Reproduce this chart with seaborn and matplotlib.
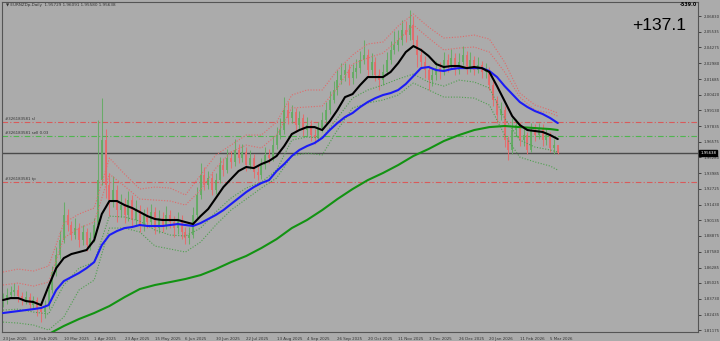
import numpy as np
import pandas as pd
import matplotlib
matplotlib.use("Agg")
import matplotlib.pyplot as plt
import matplotlib.transforms as mtrans
import seaborn as sns

# ---------------- data (EURNZDp, 2-day candles) ----------------
closes = [1.8363, 1.8404, 1.8428, 1.8445, 1.8396, 1.8363, 1.8387, 1.8322, 1.8363, 1.8298,
          1.8265, 1.8314, 1.8445, 1.8592, 1.8731, 1.8853, 1.9058, 1.8976, 1.8894, 1.8951,
          1.8853, 1.8919, 1.8812, 1.8870, 1.8976, 1.9343, 1.9670, 1.9303, 1.9180, 1.9262,
          1.9098, 1.9139, 1.9058, 1.9180, 1.9017, 1.9098, 1.8976, 1.9058, 1.9000, 1.9082,
          1.8951, 1.9033, 1.8976, 1.9058, 1.9000, 1.8951, 1.9017, 1.8919, 1.8870, 1.8894,
          1.9058, 1.9221, 1.9384, 1.9303, 1.9360, 1.9262, 1.9343, 1.9466, 1.9425, 1.9523,
          1.9491, 1.9589, 1.9523, 1.9572, 1.9466, 1.9523, 1.9409, 1.9384, 1.9466, 1.9548,
          1.9523, 1.9629, 1.9711, 1.9752, 1.9915, 1.9850, 1.9899, 1.9793, 1.9850, 1.9752,
          1.9793, 1.9711, 1.9687, 1.9768, 1.9834, 1.9915, 1.9997, 2.0079, 2.0160, 2.0201,
          2.0242, 2.0177, 2.0226, 2.0258, 2.0324, 2.0365, 2.0242, 2.0307, 2.0201, 2.0160,
          2.0226, 2.0324, 2.0406, 2.0446, 2.0487, 2.0569, 2.0528, 2.0610, 2.0487, 2.0365,
          2.0307, 2.0242, 2.0160, 2.0201, 2.0258, 2.0226, 2.0324, 2.0283, 2.0340, 2.0242,
          2.0307, 2.0365, 2.0258, 2.0324, 2.0242, 2.0283, 2.0226, 2.0242, 2.0120, 1.9997,
          1.9874, 1.9915, 1.9670, 1.9589, 1.9752, 1.9793, 1.9670, 1.9711, 1.9589, 1.9752,
          1.9711, 1.9768, 1.9670, 1.9711, 1.9605, 1.9629, 1.95638]
highs = [1.8420, 1.8460, 1.8475, 1.8500, 1.8490, 1.8430, 1.8440, 1.8420, 1.8400, 1.8390,
         1.8330, 1.8360, 1.8480, 1.8640, 1.8800, 1.8930, 1.9165, 1.9110, 1.9010, 1.9030,
         1.8990, 1.8980, 1.8950, 1.8920, 1.9030, 1.9834, 2.0013, 1.9760, 1.9400, 1.9380,
         1.9300, 1.9230, 1.9200, 1.9250, 1.9220, 1.9180, 1.9140, 1.9110, 1.9120, 1.9150,
         1.9120, 1.9100, 1.9080, 1.9130, 1.9100, 1.9050, 1.9080, 1.9060, 1.8960, 1.8960,
         1.9120, 1.9290, 1.9480, 1.9450, 1.9420, 1.9400, 1.9400, 1.9530, 1.9520, 1.9600,
         1.9580, 1.9680, 1.9640, 1.9640, 1.9610, 1.9590, 1.9560, 1.9460, 1.9520, 1.9610,
         1.9600, 1.9700, 1.9780, 1.9850, 2.0020, 1.9980, 1.9960, 1.9930, 1.9910, 1.9880,
         1.9860, 1.9830, 1.9760, 1.9820, 1.9900, 1.9980, 2.0070, 2.0150, 2.0240, 2.0300,
         2.0300, 2.0290, 2.0290, 2.0330, 2.0400, 2.0490, 2.0410, 2.0380, 2.0350, 2.0250,
         2.0290, 2.0390, 2.0480, 2.0560, 2.0570, 2.0650, 2.0640, 2.0730, 2.0680, 2.0530,
         2.0420, 2.0360, 2.0280, 2.0260, 2.0320, 2.0310, 2.0390, 2.0370, 2.0410, 2.0380,
         2.0380, 2.0440, 2.0400, 2.0390, 2.0360, 2.0350, 2.0320, 2.0300, 2.0270, 2.0150,
         2.0030, 1.9980, 1.9950, 1.9700, 1.9850, 1.9840, 1.9820, 1.9780, 1.9740, 1.9810,
         1.9800, 1.9810, 1.9800, 1.9770, 1.9740, 1.9680, 1.96091]
lows = [1.8310, 1.8330, 1.8380, 1.8395, 1.8350, 1.8320, 1.8330, 1.8280, 1.8290, 1.8230,
        1.8185, 1.8220, 1.8290, 1.8420, 1.8560, 1.8700, 1.8830, 1.8930, 1.8850, 1.8860,
        1.8800, 1.8810, 1.8760, 1.8770, 1.8840, 1.8950, 1.9300, 1.9200, 1.9050, 1.9120,
        1.9000, 1.9040, 1.8990, 1.9010, 1.8960, 1.8970, 1.8920, 1.8930, 1.8950, 1.8960,
        1.8900, 1.8910, 1.8920, 1.8940, 1.8950, 1.8880, 1.8900, 1.8860, 1.8820, 1.8820,
        1.8870, 1.9030, 1.9190, 1.9260, 1.9270, 1.9220, 1.9230, 1.9320, 1.9380, 1.9400,
        1.9440, 1.9460, 1.9480, 1.9490, 1.9420, 1.9430, 1.9360, 1.9340, 1.9350, 1.9430,
        1.9480, 1.9500, 1.9600, 1.9680, 1.9720, 1.9800, 1.9810, 1.9740, 1.9750, 1.9700,
        1.9700, 1.9660, 1.9640, 1.9660, 1.9740, 1.9800, 1.9880, 1.9970, 2.0040, 2.0130,
        2.0150, 2.0120, 2.0130, 2.0180, 2.0220, 2.0290, 2.0190, 2.0200, 2.0150, 2.0080,
        2.0120, 2.0200, 2.0290, 2.0370, 2.0400, 2.0450, 2.0470, 2.0490, 2.0440, 2.0270,
        2.0250, 2.0180, 2.0080, 2.0110, 2.0160, 2.0170, 2.0200, 2.0230, 2.0250, 2.0200,
        2.0210, 2.0280, 2.0210, 2.0230, 2.0200, 2.0220, 2.0180, 2.0180, 2.0080, 1.9950,
        1.9810, 1.9830, 1.9610, 1.9510, 1.9560, 1.9700, 1.9620, 1.9620, 1.9560, 1.9570,
        1.9660, 1.9680, 1.9620, 1.9630, 1.9570, 1.9560, 1.95580]

# fast (black) and middle (blue) moving averages, sampled every 4 trading days
ma_bars = list(range(0, 293, 4))
ma_fast = [1.8363, 1.8379, 1.8379, 1.8355, 1.8347, 1.8322, 1.8477, 1.8624, 1.8706, 1.8739,
           1.8755, 1.8772, 1.8853, 1.9066, 1.9172, 1.9172, 1.9139, 1.9115, 1.9082, 1.9049,
           1.9025, 1.9017, 1.9017, 1.9017, 1.9000, 1.8984, 1.9049, 1.9107, 1.9196, 1.9286,
           1.9352, 1.9417, 1.9450, 1.9441, 1.9474, 1.9499, 1.9540, 1.9621, 1.9719, 1.9752,
           1.9776, 1.9776, 1.9752, 1.9825, 1.9915, 2.0021, 2.0046, 2.0120, 2.0185, 2.0185,
           2.0185, 2.0226, 2.0299, 2.0389, 2.0438, 2.0406, 2.0357, 2.0291, 2.0267, 2.0275,
           2.0275, 2.0258, 2.0267, 2.0258, 2.0226, 2.0111, 1.9989, 1.9866, 1.9793, 1.9752,
           1.9744, 1.9736, 1.9711, 1.9678]
ma_mid = [1.8257, 1.8265, 1.8273, 1.8281, 1.8289, 1.8298, 1.8322, 1.8445, 1.8518, 1.8551,
          1.8584, 1.8624, 1.8673, 1.8812, 1.8894, 1.8927, 1.8951, 1.8960, 1.8976, 1.8968,
          1.8968, 1.8968, 1.8976, 1.8984, 1.8976, 1.8968, 1.8992, 1.9025, 1.9058, 1.9098,
          1.9147, 1.9196, 1.9245, 1.9286, 1.9319, 1.9343, 1.9417, 1.9474, 1.9540, 1.9589,
          1.9621, 1.9646, 1.9687, 1.9752, 1.9809, 1.9858, 1.9891, 1.9940, 1.9981, 2.0013,
          2.0038, 2.0054, 2.0079, 2.0128, 2.0193, 2.0258, 2.0267, 2.0242, 2.0234, 2.0250,
          2.0258, 2.0258, 2.0258, 2.0258, 2.0234, 2.0185, 2.0111, 2.0046, 1.9981, 1.9940,
          1.9907, 1.9883, 1.9850, 1.9809]

# slow average and the dotted bands, sampled every 8 trading days plus the last bar
line_bars = list(range(0, 289, 8)) + [292]
ma_slow = [np.nan, np.nan, np.nan, 1.8085, 1.8151, 1.8208, 1.8257, 1.8314, 1.8387, 1.8453,
           1.8486, 1.8510, 1.8535, 1.8567, 1.8616, 1.8673, 1.8723, 1.8788, 1.8861, 1.8951,
           1.9017, 1.9098, 1.9188, 1.9270, 1.9343, 1.9401, 1.9466, 1.9540, 1.9597, 1.9662,
           1.9711, 1.9752, 1.9776, 1.9785, 1.9776, 1.9768, 1.9760, 1.9752]
band_up_outer = [1.8592, 1.8616, 1.8600, 1.8641, 1.8992, 1.9066, 1.9115, 1.9523, 1.9392, 1.9270,
                 1.9286, 1.9278, 1.9221, 1.9384, 1.9548, 1.9629, 1.9711, 1.9711, 1.9817, 2.0038,
                 2.0079, 2.0079, 2.0242, 2.0365, 2.0455, 2.0471, 2.0602, 2.0700, 2.0593, 2.0504,
                 2.0512, 2.0528, 2.0495, 2.0307, 2.0054, 1.9956, 1.9915, 1.9891]
band_up_inner = [1.8486, 1.8502, 1.8477, 1.8510, 1.8870, 1.8951, 1.9000, 1.9392, 1.9294, 1.9188,
                 1.9180, 1.9172, 1.9139, 1.9262, 1.9441, 1.9572, 1.9629, 1.9605, 1.9711, 1.9932,
                 1.9940, 1.9948, 2.0095, 2.0291, 2.0340, 2.0381, 2.0487, 2.0610, 2.0504, 2.0406,
                 2.0422, 2.0430, 2.0389, 2.0226, 2.0021, 1.9915, 1.9891, 1.9866]
band_dn_inner = [1.8281, 1.8289, 1.8265, 1.8249, 1.8486, 1.8624, 1.8673, 1.9049, 1.9041, 1.9008,
                 1.8935, 1.8894, 1.8886, 1.8951, 1.9082, 1.9196, 1.9278, 1.9327, 1.9425, 1.9670,
                 1.9695, 1.9687, 1.9850, 2.0013, 2.0079, 2.0120, 2.0169, 2.0209, 2.0144, 2.0111,
                 2.0160, 2.0144, 2.0095, 1.9850, 1.9670, 1.9613, 1.9589, 1.9572]
band_dn_outer = [1.8183, 1.8175, 1.8159, 1.8118, 1.8224, 1.8445, 1.8526, 1.8951, 1.8951, 1.8919,
                 1.8804, 1.8780, 1.8755, 1.8837, 1.8976, 1.9098, 1.9188, 1.9278, 1.9360, 1.9540,
                 1.9564, 1.9548, 1.9752, 1.9932, 1.9973, 1.9997, 2.0038, 2.0136, 2.0079, 2.0021,
                 2.0021, 2.0013, 1.9956, 1.9711, 1.9531, 1.9491, 1.9458, 1.9425]

date_labels = ["23 Jan 2025", "14 Feb 2025", "10 Mar 2025", "1 Apr 2025", "23 Apr 2025",
               "15 May 2025", "6 Jun 2025", "30 Jun 2025", "22 Jul 2025", "13 Aug 2025",
               "4 Sep 2025", "26 Sep 2025", "20 Oct 2025", "11 Nov 2025", "3 Dec 2025",
               "26 Dec 2025", "20 Jan 2026", "11 Feb 2026", "5 Mar 2026"]
price_ticks = [2.06830, 2.05535, 2.04275, 2.02980, 2.01685, 2.00420, 1.99130, 1.97835,
               1.96575, 1.95280, 1.93985, 1.92725, 1.91430, 1.90135, 1.88875, 1.87580,
               1.86285, 1.85025, 1.83730, 1.82435, 1.81175]
sl_price, sell_price, tp_price, last_price = 1.9817, 1.9703, 1.9327, 1.95638
order_id = "#326183581"
title = "\u25bc EURNZDp,Daily  1.95729 1.96091 1.95580 1.95638"
profit_text = "+137.1"
corner_text = "-539.0"

# ---------------- drawing ----------------
BG = "#ababab"
UP = "#62ab62"
DN = "#e66a6a"

sns.set_theme(style="white")
plt.rcParams['font.family'] = ['DejaVu Sans']

W, H = 720, 341
fig = plt.figure(figsize=(W / 100, H / 100), dpi=100, facecolor=BG)
ax = fig.add_axes([2 / W, 9 / H, 696 / W, 330 / H])
ax.set_facecolor(BG)

bar_step = 2
bars = np.arange(len(closes)) * bar_step
opens = [closes[0]] + closes[:-1]
df = pd.DataFrame({"bar": bars, "open": opens, "close": closes, "high": highs, "low": lows})
df["up"] = df["close"] >= df["open"]
cols = np.where(df["up"], UP, DN)
ax.vlines(df["bar"], df["low"], df["high"], colors=cols, lw=0.75, alpha=0.9, zorder=2)
ax.bar(df["bar"], (df["close"] - df["open"]).abs().clip(lower=0.0004),
       bottom=df[["open", "close"]].min(axis=1), width=1.0, color=cols, alpha=0.9,
       linewidth=0, zorder=2)

lines = pd.DataFrame({"bar": line_bars, "slow": ma_slow,
                      "uo": band_up_outer, "ui": band_up_inner,
                      "di": band_dn_inner, "do": band_dn_outer})
mas = pd.DataFrame({"bar": ma_bars, "fast": ma_fast, "mid": ma_mid})
for key, colr in [("uo", "#e06a6a"), ("ui", "#e06a6a"), ("di", "#4f9f4f"), ("do", "#4f9f4f")]:
    sns.lineplot(data=lines, x="bar", y=key, ax=ax, color=colr, lw=0.8,
                 linestyle=(0, (1, 1.5)), zorder=3)
sns.lineplot(data=lines, x="bar", y="slow", ax=ax, color="#129312", lw=1.5, zorder=4)
sns.lineplot(data=mas, x="bar", y="mid", ax=ax, color="#1c1cf5", lw=1.5, zorder=4)
sns.lineplot(data=mas, x="bar", y="fast", ax=ax, color="#000000", lw=1.5, zorder=5)

# order lines
ax.axhline(sl_price, color="#d85a5a", lw=0.8, ls=(0, (5, 2, 1, 2)), zorder=1)
ax.axhline(sell_price, color="#4fb64f", lw=0.8, ls=(0, (5, 2, 1, 2)), zorder=1)
ax.axhline(tp_price, color="#d85a5a", lw=0.8, ls=(0, (5, 2, 1, 2)), zorder=1)
ax.axhline(last_price, color="#4a4a4a", lw=1.0, zorder=1)
tr = mtrans.blended_transform_factory(ax.transAxes, ax.transData)
for pr, txt in [(sl_price, f"{order_id} sl"), (sell_price, f"{order_id} sell 0.03"),
                (tp_price, f"{order_id} tp")]:
    ax.text(0.005, pr + 0.0007, txt, transform=tr, fontsize=2.8, color="#333333",
            ha="left", va="bottom")

ax.set_xlim(-0.53, 365.8)
ax.set_ylim(1.8102, 2.0798)

# axes and ticks
for s in ["left", "top", "right", "bottom"]:
    ax.spines[s].set_color("#555555")
    ax.spines[s].set_linewidth(0.8)
ax.yaxis.tick_right()
ax.set_yticks(price_ticks)
ax.set_yticklabels([f"{p:.5f}" for p in price_ticks])
ax.tick_params(axis="y", direction="out", length=2.5, width=0.6, pad=1.5,
               labelsize=2.8, colors="#333333")
xt = np.arange(len(date_labels)) * 16
ax.set_xticks(xt)
ax.set_xticklabels(date_labels, ha="left")
ax.tick_params(axis="x", direction="out", length=2.5, width=0.6, pad=0.8,
               labelsize=2.9, colors="#333333")
ax.set_xlabel("")
ax.set_ylabel("")
ax.grid(False)
if ax.get_legend():
    ax.get_legend().remove()

# current price tag on the right axis
ax.text(1.003, last_price, f"{last_price:.5f}", transform=tr, fontsize=2.8, color="white",
        ha="left", va="center",
        bbox=dict(boxstyle="square,pad=0.25", fc="black", ec="black"))

# texts
fig.text(6 / W, 1 - 5 / H, title, fontsize=3.0, color="#333333", ha="left", va="center")
fig.text(686 / W, 1 - 25 / H, profit_text, fontsize=12.6, color="black", ha="right",
         va="center", family=["Liberation Sans"])
fig.text(697 / W, 1 - 5 / H, corner_text, fontsize=3.4, color="black", ha="right",
         va="center", fontweight="bold")

fig.savefig("out.png", dpi=100, facecolor=BG)
